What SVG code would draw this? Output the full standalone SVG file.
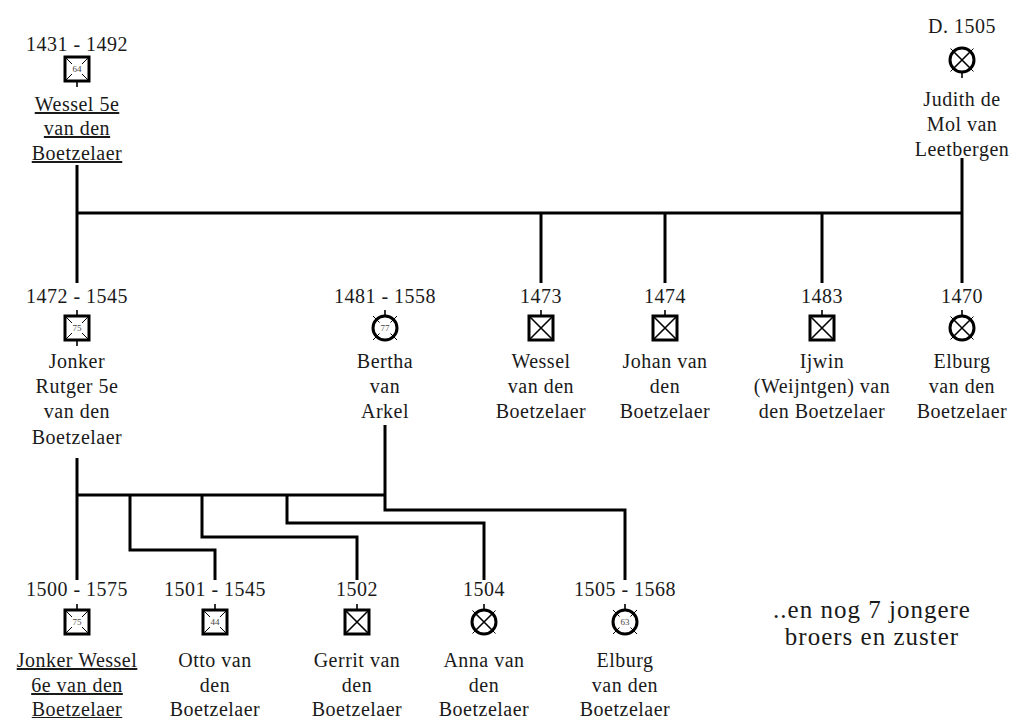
<svg xmlns="http://www.w3.org/2000/svg" width="1012" height="718" viewBox="0 0 1012 718" font-family="'Liberation Serif', 'DejaVu Serif', 'Times New Roman', serif">
<style>
text{font-family:'Liberation Serif','DejaVu Serif','Times New Roman',serif;font-size:20px;fill:#1a1a1a;text-anchor:middle;letter-spacing:0.5px}
.u{text-decoration:underline}
.n{font-size:9px;letter-spacing:0;fill:#444}
.big{font-size:25px;letter-spacing:1px}
.c{stroke:#000;stroke-width:3;fill:none}
.thick{stroke:#000;stroke-width:3;fill:none}
.thin{stroke:#000;stroke-width:1.6;fill:none}
.hair{stroke:#000;stroke-width:1;fill:none}
</style>
<defs>
<g id="boxAge"><rect x="-12" y="-12" width="24" height="24" class="thick"/><path d="M-12-12l7 7M12-12l-7 7M-12 12l7-7M12 12l-7-7" class="hair"/></g>
<g id="boxX"><rect x="-12" y="-12" width="24" height="24" class="thick"/><path d="M-12-12L12 12M12-12L-12 12" class="thin"/></g>
<g id="circX"><circle r="12" class="thick"/><path d="M-8.5-8.5L8.5 8.5M8.5-8.5L-8.5 8.5" class="thin"/><path d="M-8.5-8.5l-3-3M8.5-8.5l3-3M-8.5 8.5l-3 3M8.5 8.5l3 3" class="hair"/></g>
<g id="circAge"><circle r="12" class="thick"/><path d="M-5.5-5.5l-6.5-6.5M5.5-5.5l6.5-6.5M-5.5 5.5l-6.5 6.5M5.5 5.5l6.5 6.5" class="hair"/></g>
<path id="stubUp" d="M0-12v-6" class="thin"/>
<path id="stubDown" d="M0 12v6" class="thin"/>
</defs>
<rect width="1012" height="718" fill="#fff"/>
<g id="connectors" class="c">
<path d="M77 165V283M77 213H962M541 213V283M665 213V283M822 213V283M962 158V283"/>
<path d="M77 458V580M77 495H385M385 425V510H625V580"/>
<path d="M130 495V550H215V580M202 495V537H357V580M287 495V523H484V580"/>
</g>
<g id="wessel5e">
<text x="77" y="51">1431 - 1492</text>
<use href="#boxAge" x="77" y="69"/><use href="#stubDown" x="77" y="69"/>
<text x="77" y="72" class="n">64</text>
<text x="77" y="111" class="u">Wessel 5e</text>
<text x="77" y="135" class="u">van den</text>
<text x="77" y="160" class="u">Boetzelaer</text>
</g>
<g id="judith">
<text x="962" y="33">D. 1505</text>
<use href="#circX" x="962" y="60"/><use href="#stubDown" x="962" y="60"/>
<text x="962" y="106">Judith de</text>
<text x="962" y="131">Mol van</text>
<text x="962" y="156">Leetbergen</text>
</g>
<g id="rutger">
<text x="77" y="303">1472 - 1545</text>
<use href="#boxAge" x="77" y="328"/><use href="#stubUp" x="77" y="328"/><use href="#stubDown" x="77" y="328"/>
<text x="77" y="331" class="n">75</text>
<text x="77" y="368">Jonker</text>
<text x="77" y="393">Rutger 5e</text>
<text x="77" y="418">van den</text>
<text x="77" y="444">Boetzelaer</text>
</g>
<g id="bertha">
<text x="385" y="303">1481 - 1558</text>
<use href="#circAge" x="385" y="328"/><use href="#stubUp" x="385" y="328"/>
<text x="385" y="331" class="n">77</text>
<text x="385" y="368">Bertha</text>
<text x="385" y="393">van</text>
<text x="385" y="418">Arkel</text>
</g>
<g id="wessel1473">
<text x="541" y="303">1473</text>
<use href="#boxX" x="541" y="328"/><use href="#stubUp" x="541" y="328"/>
<text x="541" y="368">Wessel</text>
<text x="541" y="393">van den</text>
<text x="541" y="418">Boetzelaer</text>
</g>
<g id="johan">
<text x="665" y="303">1474</text>
<use href="#boxX" x="665" y="328"/><use href="#stubUp" x="665" y="328"/>
<text x="665" y="368">Johan van</text>
<text x="665" y="393">den</text>
<text x="665" y="418">Boetzelaer</text>
</g>
<g id="ijwin">
<text x="822" y="303">1483</text>
<use href="#boxX" x="822" y="328"/><use href="#stubUp" x="822" y="328"/>
<text x="822" y="368">Ijwin</text>
<text x="822" y="393">(Weijntgen) van</text>
<text x="822" y="418">den Boetzelaer</text>
</g>
<g id="elburg1470">
<text x="962" y="303">1470</text>
<use href="#circX" x="962" y="328"/><use href="#stubUp" x="962" y="328"/>
<text x="962" y="368">Elburg</text>
<text x="962" y="393">van den</text>
<text x="962" y="418">Boetzelaer</text>
</g>
<g id="jonkerWessel">
<text x="77" y="596">1500 - 1575</text>
<use href="#boxAge" x="77" y="622"/><use href="#stubUp" x="77" y="622"/>
<text x="77" y="625" class="n">75</text>
<text x="77" y="667" class="u">Jonker Wessel</text>
<text x="77" y="692" class="u">6e van den</text>
<text x="77" y="716" class="u">Boetzelaer</text>
</g>
<g id="otto">
<text x="215" y="596">1501 - 1545</text>
<use href="#boxAge" x="215" y="622"/><use href="#stubUp" x="215" y="622"/>
<text x="215" y="625" class="n">44</text>
<text x="215" y="667">Otto van</text>
<text x="215" y="692">den</text>
<text x="215" y="716">Boetzelaer</text>
</g>
<g id="gerrit">
<text x="357" y="596">1502</text>
<use href="#boxX" x="357" y="622"/><use href="#stubUp" x="357" y="622"/>
<text x="357" y="667">Gerrit van</text>
<text x="357" y="692">den</text>
<text x="357" y="716">Boetzelaer</text>
</g>
<g id="anna">
<text x="484" y="596">1504</text>
<use href="#circX" x="484" y="622"/><use href="#stubUp" x="484" y="622"/>
<text x="484" y="667">Anna van</text>
<text x="484" y="692">den</text>
<text x="484" y="716">Boetzelaer</text>
</g>
<g id="elburg1505">
<text x="625" y="596">1505 - 1568</text>
<use href="#circAge" x="625" y="622"/><use href="#stubUp" x="625" y="622"/>
<text x="625" y="625" class="n">63</text>
<text x="625" y="667">Elburg</text>
<text x="625" y="692">van den</text>
<text x="625" y="716">Boetzelaer</text>
</g>
<g id="note">
<text x="872" y="618" class="big">..en nog 7 jongere</text>
<text x="872" y="645" class="big">broers en zuster</text>
</g>
</svg>
